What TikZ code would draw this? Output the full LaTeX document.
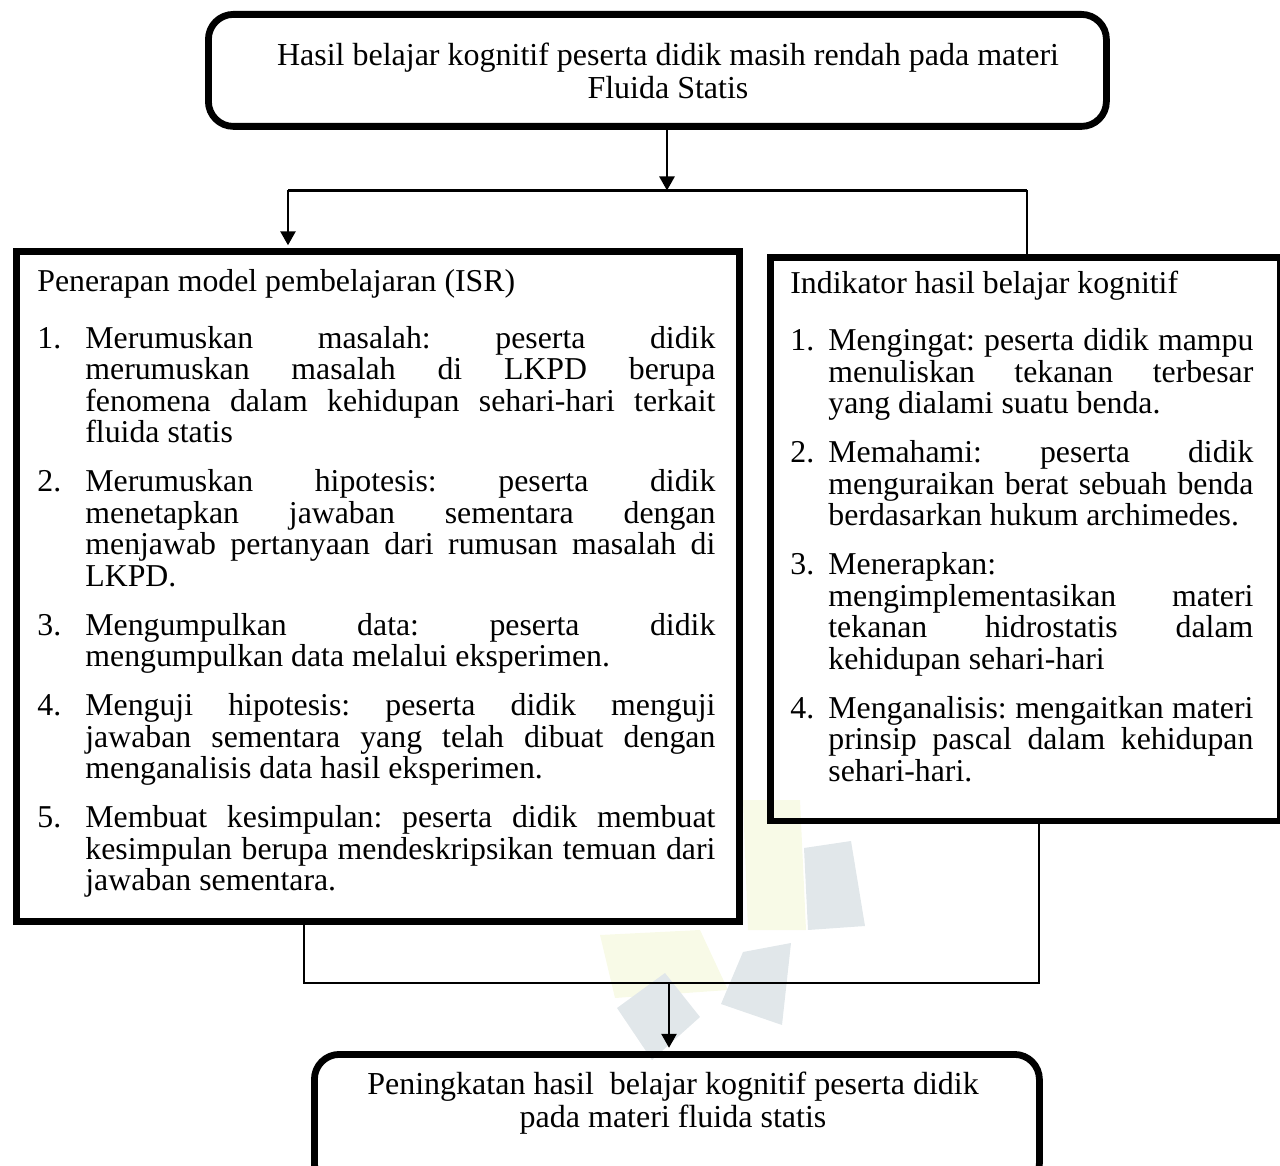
\documentclass[tikz,border=0pt]{standalone}
\usepackage{fontspec}
\setmainfont{Liberation Serif}
\usetikzlibrary{arrows.meta}
\definecolor{wmgray}{RGB}{225,231,234}
\definecolor{wmyellow}{RGB}{248,250,231}
\newcommand\myitem[3]{\par\noindent\hangindent=#1\hangafter=1\makebox[#1][l]{#2}#3}
\newcommand\bodysetup{\fontsize{15.9}{15.75}\selectfont\frenchspacing\parindent=0pt\parskip=8.75pt\tolerance=9999\hyphenpenalty=10000\exhyphenpenalty=10000\emergencystretch=0pt}
\newcommand\justifyit{\leftskip=0pt\rightskip=0pt\parfillskip=0pt plus 1fil\spaceskip=0pt\xspaceskip=0pt\relax}
\newcommand\centersetup{\fontsize{16}{16.5}\selectfont}
\begin{document}
\begin{tikzpicture}[x=0.5pt,y=-0.5pt,
  bigbox/.style={draw, line width=3.4pt, inner sep=0pt, anchor=north west},
  rbox/.style={bigbox, rounded corners=12.5pt},
  conn/.style={line width=1.3pt},
  arr/.style={conn, -{Triangle[width=7.5pt,length=7pt]}},
  bodytext/.style={anchor=north west, inner sep=0pt, text width=#1, font=\bodysetup},
  centertext/.style={inner sep=0pt, align=center, font=\centersetup},
  wmpetal/.style={fill=#1, draw=none}
]
\useasboundingbox (0,0) rectangle (1280,1166);
\clip (0,0) rectangle (1280,1166);

% faint watermark
\path[wmpetal=wmyellow] (743,800) -- (800,800) -- (806,930) -- (748,930) -- cycle;
\path[wmpetal=wmyellow] (600,935) -- (700,930) -- (728,990) -- (615,998) -- cycle;
\path[wmpetal=wmgray] (804,848) -- (851,841) -- (865,926) -- (808,930) -- cycle;
\path[wmpetal=wmgray] (743,952) -- (791,943) -- (782,1025) -- (721,1004) -- cycle;
\path[wmpetal=wmgray] (617,1008) -- (665,973) -- (700,1017) -- (652,1060) -- cycle;

% boxes
\node[rbox, minimum width=449pt, minimum height=56pt] (T) at (205,11) {};
\node[bigbox, minimum width=361.5pt, minimum height=334.75pt] (L) at (13,248.5) {};
\node[bigbox, minimum width=254.75pt, minimum height=281.75pt] (R) at (767,254) {};
\node[rbox, minimum width=362.5pt, minimum height=67pt] (B) at (311,1051) {};

% texts
\node[centertext] (Ttext) at (668,71) {Hasil belajar kognitif peserta didik masih rendah pada materi\\Fluida Statis};
\node[centertext] (Btext) at (673,1103) {Peningkatan hasil\ \ belajar kognitif peserta didik\\pada materi fluida statis};

\node[bodytext=339pt] (Ltext) at (37,269) {\justifyit Penerapan model pembelajaran (ISR)\par\vspace{4pt}%
\myitem{24pt}{1.}{Merumuskan masalah: peserta didik\linebreak merumuskan masalah di LKPD berupa\linebreak fenomena dalam kehidupan sehari-hari terkait\linebreak fluida statis}
\myitem{24pt}{2.}{Merumuskan hipotesis: peserta didik\linebreak menetapkan jawaban sementara dengan\linebreak menjawab pertanyaan dari rumusan masalah di\linebreak LKPD.}
\myitem{24pt}{3.}{Mengumpulkan data: peserta didik\linebreak mengumpulkan data melalui eksperimen.}
\myitem{24pt}{4.}{Menguji hipotesis: peserta didik menguji\linebreak jawaban sementara yang telah dibuat dengan\linebreak menganalisis data hasil eksperimen.}
\myitem{24pt}{5.}{Membuat kesimpulan: peserta didik membuat\linebreak kesimpulan berupa mendeskripsikan temuan dari\linebreak jawaban sementara.}\par};

\node[bodytext=231.5pt] (Rtext) at (790,271) {\justifyit Indikator hasil belajar kognitif\par\vspace{4pt}%
\myitem{19pt}{1.}{Mengingat: peserta didik mampu\linebreak menuliskan tekanan terbesar\linebreak yang dialami suatu benda.}
\myitem{19pt}{2.}{Memahami: peserta didik\linebreak menguraikan berat sebuah benda\linebreak berdasarkan hukum archimedes.}
\myitem{19pt}{3.}{Menerapkan:\newline mengimplementasikan materi\linebreak tekanan hidrostatis dalam\linebreak kehidupan sehari-hari}
\myitem{19pt}{4.}{Menganalisis: mengaitkan materi\linebreak prinsip pascal dalam kehidupan\linebreak sehari-hari.}\par};

% connectors
\coordinate (s1) at (667,190.5);
\coordinate (sL) at (288,190.5);
\coordinate (sR) at (1027,190.5);
\draw[arr] (T.south -| s1) -- (s1);
\draw[conn] (sL) -- (sR);
\draw[arr, shorten >=1.6pt] (sL) -- (sL |- L.north);
\draw[conn] (sR) -- (sR |- R.north);

\coordinate (jL) at (304,983);
\coordinate (jR) at (1039,983);
\coordinate (jM) at (669,983);
\draw[conn] (jL |- L.south) -- (jL) -- (jR) -- (jR |- R.south);
\draw[arr, shorten >=1.6pt] (jM) -- (jM |- B.north);
\end{tikzpicture}
\end{document}
